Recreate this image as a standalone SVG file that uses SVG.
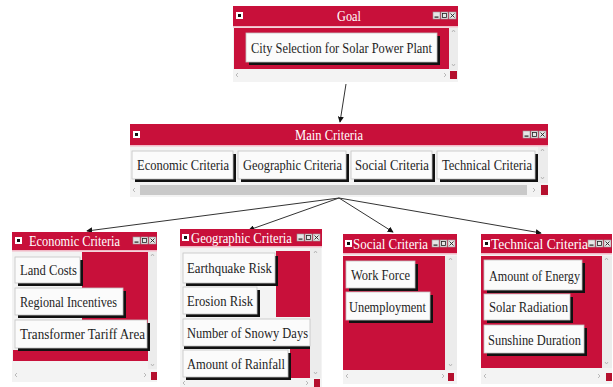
<svg xmlns="http://www.w3.org/2000/svg" width="613" height="387" viewBox="0 0 613 387">
<defs>
<style>
.tb{fill:#c8103a}
.cr{fill:#c8103a}
.pane{fill:#f3f3f3}
.sb{fill:#ececec}
.rs{fill:#b5102e}
.sep{fill:#f2b8c6}
.tt{font-family:"Liberation Serif","Times New Roman",serif;font-size:15px;fill:#ffffff}
.bt{font-family:"Liberation Serif","Times New Roman",serif;font-size:15px;fill:#1e1e1e}
.sh{fill:#111}
.bf{fill:#fbfbfb;stroke:#c4c4c4;stroke-width:0.8}
.ic{fill:#e6e6e6;stroke:#999;stroke-width:0.6}
.icl{fill:#fff}
.icd{fill:#111}
.ar{fill:none;stroke:#aaa;stroke-width:0.8}
.cn{fill:none;stroke:#333;stroke-width:1}
</style>
<marker id="ah" viewBox="0 0 8 8" refX="7" refY="4" markerWidth="6" markerHeight="6" orient="auto" markerUnits="userSpaceOnUse">
<path d="M0,0 L8,4 L0,8 z" fill="#111"/>
</marker>
<g id="tbicons">
<rect class="ic" x="0" y="0" width="7" height="7"/><rect x="1.5" y="4.5" width="4" height="1.2" fill="#222"/>
<rect class="ic" x="8" y="0" width="7" height="7"/><rect x="9.5" y="1.5" width="4" height="4" fill="none" stroke="#222" stroke-width="0.8"/>
<rect class="ic" x="16" y="0" width="7" height="7"/><path d="M17.5,1.5 L21.5,5.5 M21.5,1.5 L17.5,5.5" stroke="#222" stroke-width="0.9"/>
</g>
<g id="licon"><rect class="icl" x="0" y="0" width="7" height="7"/><rect class="icd" x="2" y="2" width="3" height="3"/></g>
</defs>

<g id="connectors">
<line class="cn" x1="346" y1="84" x2="340" y2="122" marker-end="url(#ah)"/>
<line class="cn" x1="339" y1="198" x2="87" y2="231" marker-end="url(#ah)"/>
<line class="cn" x1="339" y1="198" x2="249" y2="230" marker-end="url(#ah)"/>
<line class="cn" x1="339" y1="198" x2="393" y2="232" marker-end="url(#ah)"/>
<line class="cn" x1="339" y1="198" x2="541" y2="233" marker-end="url(#ah)"/>
</g>

<g id="goal">
<rect class="pane" x="233" y="6" width="225" height="76"/>
<rect class="tb" x="233" y="6" width="225" height="20"/>
<use href="#licon" x="236" y="12"/>
<use href="#tbicons" x="433" y="12"/>
<text class="tt" x="337" y="21" font-size="14" textLength="24" lengthAdjust="spacingAndGlyphs">Goal</text>
<rect class="sep" x="233" y="26" width="225" height="1.5"/>
<rect class="cr" x="234" y="28" width="215" height="41"/>
<rect class="sb" x="449" y="28" width="9" height="42"/>
<path class="ar" d="M452,32 l1.5,-2 l1.5,2 M452,64 l1.5,2 l1.5,-2 M238,73 l-2,2 l2,2 M444,73 l2,2 l-2,2"/>
<rect class="rs" x="450" y="71" width="7" height="8"/>
<rect class="sh" x="249" y="36" width="191" height="29"/>
<rect class="bf" x="246" y="33" width="191" height="29"/>
<text class="bt" x="251" y="53" textLength="181" lengthAdjust="spacingAndGlyphs">City Selection for Solar Power Plant</text>
</g>

<g id="main">
<rect class="pane" x="130" y="124" width="418" height="73"/>
<rect class="tb" x="130" y="124" width="418" height="21"/>
<use href="#licon" x="133" y="131"/>
<use href="#tbicons" x="523" y="131"/>
<text class="tt" x="295" y="140" font-size="14" textLength="68" lengthAdjust="spacingAndGlyphs">Main Criteria</text>
<rect class="sep" x="130" y="145" width="418" height="1.5"/>
<rect class="sb" x="538" y="147" width="10" height="36"/>
<path class="ar" d="M541,151 l1.5,-2 l1.5,2 M541,177 l1.5,2 l1.5,-2 M135,188 l-2,2 l2,2 M533,188 l2,2 l-2,2"/>
<rect x="140" y="185" width="387" height="10" fill="#c9c9c9"/>
<rect class="rs" x="541" y="185" width="7" height="10"/>
<rect class="sh" x="135" y="154" width="101" height="28"/>
<rect class="bf" x="132" y="151" width="101" height="28"/>
<text class="bt" x="137" y="170" textLength="92" lengthAdjust="spacingAndGlyphs">Economic Criteria</text>
<rect class="sh" x="241" y="154" width="108" height="28"/>
<rect class="bf" x="238" y="151" width="108" height="28"/>
<text class="bt" x="243" y="170" textLength="99" lengthAdjust="spacingAndGlyphs">Geographic Criteria</text>
<rect class="sh" x="354" y="154" width="81" height="28"/>
<rect class="bf" x="351" y="151" width="81" height="28"/>
<text class="bt" x="355" y="170" textLength="74" lengthAdjust="spacingAndGlyphs">Social Criteria</text>
<rect class="sh" x="440" y="154" width="98" height="28"/>
<rect class="bf" x="437" y="151" width="98" height="28"/>
<text class="bt" x="442" y="170" textLength="90" lengthAdjust="spacingAndGlyphs">Technical Criteria</text>
</g>

<g id="economic">
<rect class="pane" x="12" y="232" width="145" height="150"/>
<rect class="tb" x="12" y="232" width="145" height="18"/>
<use href="#licon" x="15" y="237"/>
<use href="#tbicons" x="133" y="237"/>
<text class="tt" x="29" y="246" textLength="91" lengthAdjust="spacingAndGlyphs">Economic Criteria</text>
<rect class="sep" x="12" y="250" width="145" height="1.5"/>
<rect class="cr" x="82" y="252" width="66" height="100"/>
<rect class="cr" x="13" y="350" width="135" height="11"/>
<rect class="sb" x="148" y="252" width="9" height="117"/>
<path class="ar" d="M151,256 l1.5,-2 l1.5,2 M151,364 l1.5,2 l1.5,-2 M17,373 l-2,2 l2,2 M144,373 l2,2 l-2,2"/>
<rect class="rs" x="151" y="372" width="6" height="8"/>
<rect class="sh" x="18" y="260" width="65" height="26"/>
<rect class="bf" x="15" y="257" width="65" height="26"/>
<text class="bt" x="20" y="275" textLength="57" lengthAdjust="spacingAndGlyphs">Land Costs</text>
<rect class="sh" x="18" y="291" width="108" height="27"/>
<rect class="bf" x="15" y="288" width="108" height="27"/>
<text class="bt" x="20" y="307" textLength="97" lengthAdjust="spacingAndGlyphs">Regional Incentives</text>
<rect class="sh" x="18" y="323" width="132" height="28"/>
<rect class="bf" x="15" y="320" width="132" height="28"/>
<text class="bt" x="20" y="339" textLength="125" lengthAdjust="spacingAndGlyphs">Transformer Tariff Area</text>
</g>

<g id="geographic">
<rect class="pane" x="180" y="229" width="142" height="158"/>
<rect class="tb" x="180" y="229" width="142" height="17"/>
<use href="#licon" x="182" y="234"/>
<use href="#tbicons" x="297" y="234"/>
<text class="tt" x="191" y="243" textLength="101" lengthAdjust="spacingAndGlyphs">Geographic Criteria</text>
<rect class="sep" x="180" y="246" width="142" height="1.5"/>
<rect class="cr" x="276" y="251" width="34" height="66"/>
<rect class="cr" x="290" y="348" width="20" height="30"/>
<rect class="sb" x="310" y="248" width="11" height="130"/>
<path class="ar" d="M314,253 l1.5,-2 l1.5,2 M314,372 l1.5,2 l1.5,-2 M185,381 l-2,2 l2,2 M306,381 l2,2 l-2,2"/>
<rect class="rs" x="314" y="379" width="6" height="8"/>
<rect class="sh" x="186" y="256" width="92" height="30"/>
<rect class="bf" x="183" y="253" width="92" height="30"/>
<text class="bt" x="187" y="273" textLength="85" lengthAdjust="spacingAndGlyphs">Earthquake Risk</text>
<rect class="sh" x="186" y="290" width="74" height="27"/>
<rect class="bf" x="183" y="287" width="74" height="27"/>
<text class="bt" x="187" y="306" textLength="66" lengthAdjust="spacingAndGlyphs">Erosion Risk</text>
<rect class="sh" x="184" y="322" width="126" height="27"/>
<rect class="bf" x="183" y="319" width="127" height="27"/>
<text class="bt" x="187" y="338" textLength="121" lengthAdjust="spacingAndGlyphs">Number of Snowy Days</text>
<rect class="sh" x="186" y="353" width="105" height="27"/>
<rect class="bf" x="183" y="350" width="105" height="27"/>
<text class="bt" x="187" y="369" textLength="98" lengthAdjust="spacingAndGlyphs">Amount of Rainfall</text>
</g>

<g id="social">
<rect class="pane" x="343" y="234" width="114" height="150"/>
<rect class="tb" x="343" y="234" width="114" height="19"/>
<use href="#licon" x="345" y="240"/>
<use href="#tbicons" x="432" y="240"/>
<text class="tt" x="353" y="249" textLength="75" lengthAdjust="spacingAndGlyphs">Social Criteria</text>
<rect class="sep" x="343" y="253" width="114" height="1.5"/>
<rect class="cr" x="343" y="256" width="102" height="114"/>
<rect class="sb" x="445" y="256" width="12" height="114"/>
<path class="ar" d="M449,260 l1.5,-2 l1.5,2 M449,364 l1.5,2 l1.5,-2 M348,374 l-2,2 l2,2 M442,374 l2,2 l-2,2"/>
<rect class="rs" x="448" y="373" width="6" height="8"/>
<rect class="sh" x="349" y="264" width="69" height="27"/>
<rect class="bf" x="346" y="261" width="69" height="27"/>
<text class="bt" x="351" y="280" textLength="59" lengthAdjust="spacingAndGlyphs">Work Force</text>
<rect class="sh" x="349" y="295" width="84" height="28"/>
<rect class="bf" x="346" y="292" width="84" height="28"/>
<text class="bt" x="349" y="312" textLength="77" lengthAdjust="spacingAndGlyphs">Unemployment</text>
</g>

<g id="technical">
<rect class="pane" x="481" y="234" width="131" height="150"/>
<rect class="tb" x="481" y="234" width="131" height="19"/>
<use href="#licon" x="483" y="240"/>
<use href="#tbicons" x="588" y="240"/>
<text class="tt" x="491" y="249" textLength="97" lengthAdjust="spacingAndGlyphs">Technical Criteria</text>
<rect class="sep" x="481" y="253" width="131" height="1.5"/>
<rect class="cr" x="481" y="256" width="121" height="112"/>
<rect class="sb" x="602" y="256" width="10" height="112"/>
<path class="ar" d="M605,260 l1.5,-2 l1.5,2 M605,362 l1.5,2 l1.5,-2 M486,374 l-2,2 l2,2 M598,374 l2,2 l-2,2"/>
<rect class="rs" x="606" y="373" width="6" height="8"/>
<rect class="sh" x="487" y="263" width="98" height="30"/>
<rect class="bf" x="484" y="260" width="98" height="30"/>
<text class="bt" x="489" y="281" textLength="91" lengthAdjust="spacingAndGlyphs">Amount of Energy</text>
<rect class="sh" x="487" y="297" width="86" height="26"/>
<rect class="bf" x="484" y="294" width="86" height="26"/>
<text class="bt" x="489" y="312" textLength="79" lengthAdjust="spacingAndGlyphs">Solar Radiation</text>
<rect class="sh" x="487" y="328" width="100" height="28"/>
<rect class="bf" x="484" y="325" width="100" height="28"/>
<text class="bt" x="488" y="345" textLength="93" lengthAdjust="spacingAndGlyphs">Sunshine Duration</text>
</g>
</svg>
